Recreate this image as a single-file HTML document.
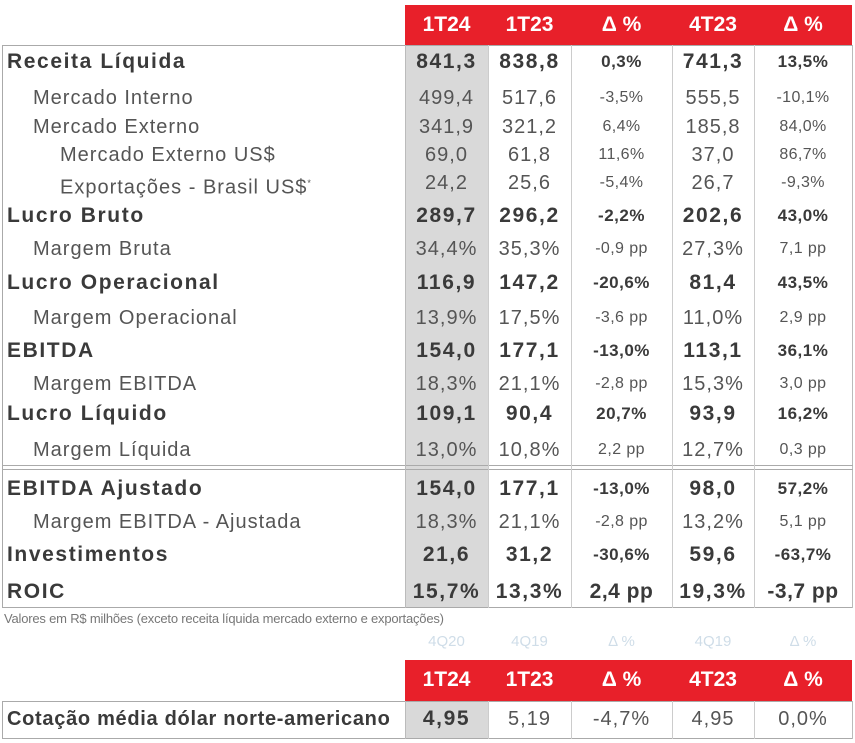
<!DOCTYPE html>
<html><head><meta charset="utf-8"><style>
body{margin:0;width:855px;height:743px;background:#fff;position:relative;overflow:hidden;font-family:"Liberation Sans",sans-serif;color:#555}
.a{position:absolute}
.r{position:absolute;left:0;width:855px;height:30px;line-height:30px;font-size:20px;letter-spacing:1px;white-space:nowrap}
.r span{position:absolute;top:0}
.l{text-align:left}
.c{text-align:center}
.b{font-weight:bold;color:#3a3a3a;font-size:21px;letter-spacing:1.6px}
.hd{color:#fff;font-weight:bold;font-size:21px;text-align:center;line-height:40px}
.s{font-size:16px;letter-spacing:0.4px}
.p{font-size:17px !important;letter-spacing:0.5px}
</style></head><body>
<div class="a" style="left:405px;top:5px;width:447px;height:40px;background:#e8202a"></div>
<div class="a hd" style="left:405px;top:5px;width:83px">1T24</div>
<div class="a hd" style="left:488px;top:5px;width:83px">1T23</div>
<div class="a hd" style="left:571px;top:5px;width:101px">Δ %</div>
<div class="a hd" style="left:672px;top:5px;width:82px">4T23</div>
<div class="a hd" style="left:754px;top:5px;width:98px">Δ %</div>
<div class="a" style="left:405px;top:46px;width:83px;height:562px;background:#d9d9d9"></div>
<div class="a" style="left:2px;top:45px;width:851px;height:1px;background:#aaa"></div>
<div class="a" style="left:2px;top:45px;width:1px;height:563px;background:#aaa"></div>
<div class="a" style="left:2px;top:607px;width:851px;height:1px;background:#aaa"></div>
<div class="a" style="left:852px;top:45px;width:1px;height:563px;background:#bbb"></div>
<div class="a" style="left:2px;top:465px;width:851px;height:1px;background:#aaa"></div>
<div class="a" style="left:2px;top:469px;width:851px;height:1px;background:#aaa"></div>
<div class="a" style="left:405px;top:45px;width:1px;height:563px;background:#bbb"></div>
<div class="a" style="left:488px;top:45px;width:1px;height:563px;background:#ccc"></div>
<div class="a" style="left:571px;top:45px;width:1px;height:563px;background:#ccc"></div>
<div class="a" style="left:672px;top:45px;width:1px;height:563px;background:#ccc"></div>
<div class="a" style="left:754px;top:45px;width:1px;height:563px;background:#ccc"></div>

<div class="r b" style="top:47px"><span style="left:7px">Receita Líquida</span><span class="c" style="left:405px;width:83px">841,3</span><span class="c" style="left:488px;width:83px">838,8</span><span class="c p" style="left:571px;width:101px">0,3%</span><span class="c" style="left:672px;width:82px">741,3</span><span class="c p" style="left:754px;width:98px">13,5%</span></div>
<div class="r" style="top:83px"><span style="left:33px">Mercado Interno</span><span class="c" style="left:405px;width:83px">499,4</span><span class="c" style="left:488px;width:83px">517,6</span><span class="c s" style="left:571px;width:101px">-3,5%</span><span class="c" style="left:672px;width:82px">555,5</span><span class="c s" style="left:754px;width:98px">-10,1%</span></div>
<div class="r" style="top:112px"><span style="left:33px">Mercado Externo</span><span class="c" style="left:405px;width:83px">341,9</span><span class="c" style="left:488px;width:83px">321,2</span><span class="c s" style="left:571px;width:101px">6,4%</span><span class="c" style="left:672px;width:82px">185,8</span><span class="c s" style="left:754px;width:98px">84,0%</span></div>
<div class="r" style="top:140px"><span style="left:60px">Mercado Externo US$</span><span class="c" style="left:405px;width:83px">69,0</span><span class="c" style="left:488px;width:83px">61,8</span><span class="c s" style="left:571px;width:101px">11,6%</span><span class="c" style="left:672px;width:82px">37,0</span><span class="c s" style="left:754px;width:98px">86,7%</span></div>
<div class="r" style="top:168px"><span style="left:60px">Exportações - Brasil US$<sup style="font-size:9px">*</sup></span><span class="c" style="left:405px;width:83px">24,2</span><span class="c" style="left:488px;width:83px">25,6</span><span class="c s" style="left:571px;width:101px">-5,4%</span><span class="c" style="left:672px;width:82px">26,7</span><span class="c s" style="left:754px;width:98px">-9,3%</span></div>
<div class="r b" style="top:201px"><span style="left:7px">Lucro Bruto</span><span class="c" style="left:405px;width:83px">289,7</span><span class="c" style="left:488px;width:83px">296,2</span><span class="c p" style="left:571px;width:101px">-2,2%</span><span class="c" style="left:672px;width:82px">202,6</span><span class="c p" style="left:754px;width:98px">43,0%</span></div>
<div class="r" style="top:234px"><span style="left:33px">Margem Bruta</span><span class="c" style="left:405px;width:83px">34,4%</span><span class="c" style="left:488px;width:83px">35,3%</span><span class="c s" style="left:571px;width:101px">-0,9 pp</span><span class="c" style="left:672px;width:82px">27,3%</span><span class="c s" style="left:754px;width:98px">7,1 pp</span></div>
<div class="r b" style="top:268px"><span style="left:7px">Lucro Operacional</span><span class="c" style="left:405px;width:83px">116,9</span><span class="c" style="left:488px;width:83px">147,2</span><span class="c p" style="left:571px;width:101px">-20,6%</span><span class="c" style="left:672px;width:82px">81,4</span><span class="c p" style="left:754px;width:98px">43,5%</span></div>
<div class="r" style="top:303px"><span style="left:33px">Margem Operacional</span><span class="c" style="left:405px;width:83px">13,9%</span><span class="c" style="left:488px;width:83px">17,5%</span><span class="c s" style="left:571px;width:101px">-3,6 pp</span><span class="c" style="left:672px;width:82px">11,0%</span><span class="c s" style="left:754px;width:98px">2,9 pp</span></div>
<div class="r b" style="top:336px"><span style="left:7px">EBITDA</span><span class="c" style="left:405px;width:83px">154,0</span><span class="c" style="left:488px;width:83px">177,1</span><span class="c p" style="left:571px;width:101px">-13,0%</span><span class="c" style="left:672px;width:82px">113,1</span><span class="c p" style="left:754px;width:98px">36,1%</span></div>
<div class="r" style="top:369px"><span style="left:33px">Margem EBITDA</span><span class="c" style="left:405px;width:83px">18,3%</span><span class="c" style="left:488px;width:83px">21,1%</span><span class="c s" style="left:571px;width:101px">-2,8 pp</span><span class="c" style="left:672px;width:82px">15,3%</span><span class="c s" style="left:754px;width:98px">3,0 pp</span></div>
<div class="r b" style="top:399px"><span style="left:7px">Lucro Líquido</span><span class="c" style="left:405px;width:83px">109,1</span><span class="c" style="left:488px;width:83px">90,4</span><span class="c p" style="left:571px;width:101px">20,7%</span><span class="c" style="left:672px;width:82px">93,9</span><span class="c p" style="left:754px;width:98px">16,2%</span></div>
<div class="r" style="top:435px"><span style="left:33px">Margem Líquida</span><span class="c" style="left:405px;width:83px">13,0%</span><span class="c" style="left:488px;width:83px">10,8%</span><span class="c s" style="left:571px;width:101px">2,2 pp</span><span class="c" style="left:672px;width:82px">12,7%</span><span class="c s" style="left:754px;width:98px">0,3 pp</span></div>
<div class="r b" style="top:474px"><span style="left:7px">EBITDA Ajustado</span><span class="c" style="left:405px;width:83px">154,0</span><span class="c" style="left:488px;width:83px">177,1</span><span class="c p" style="left:571px;width:101px">-13,0%</span><span class="c" style="left:672px;width:82px">98,0</span><span class="c p" style="left:754px;width:98px">57,2%</span></div>
<div class="r" style="top:507px"><span style="left:33px">Margem EBITDA - Ajustada</span><span class="c" style="left:405px;width:83px">18,3%</span><span class="c" style="left:488px;width:83px">21,1%</span><span class="c s" style="left:571px;width:101px">-2,8 pp</span><span class="c" style="left:672px;width:82px">13,2%</span><span class="c s" style="left:754px;width:98px">5,1 pp</span></div>
<div class="r b" style="top:540px"><span style="left:7px">Investimentos</span><span class="c" style="left:405px;width:83px">21,6</span><span class="c" style="left:488px;width:83px">31,2</span><span class="c p" style="left:571px;width:101px">-30,6%</span><span class="c" style="left:672px;width:82px">59,6</span><span class="c p" style="left:754px;width:98px">-63,7%</span></div>
<div class="r b" style="top:577px"><span style="left:7px">ROIC</span><span class="c" style="left:405px;width:83px">15,7%</span><span class="c" style="left:488px;width:83px">13,3%</span><span class="c" style="left:571px;width:101px;letter-spacing:0.5px">2,4 pp</span><span class="c" style="left:672px;width:82px">19,3%</span><span class="c" style="left:754px;width:98px;letter-spacing:0.5px">-3,7 pp</span></div>

<div class="a" style="left:4px;top:611px;font-size:13px;color:#777;letter-spacing:-0.2px">Valores em R$ milhões (exceto receita líquida mercado externo e exportações)</div>

<div class="a" style="left:0;top:633px;width:855px;font-size:15px;color:#cfdde8">
<span class="a c" style="left:405px;width:83px">4Q20</span><span class="a c" style="left:488px;width:83px">4Q19</span><span class="a c" style="left:571px;width:101px">Δ %</span><span class="a c" style="left:672px;width:82px">4Q19</span><span class="a c" style="left:754px;width:98px">Δ %</span></div>

<div class="a" style="left:405px;top:660px;width:447px;height:41px;background:#e8202a"></div>
<div class="a hd" style="left:405px;top:660px;width:83px">1T24</div>
<div class="a hd" style="left:488px;top:660px;width:83px">1T23</div>
<div class="a hd" style="left:571px;top:660px;width:101px">Δ %</div>
<div class="a hd" style="left:672px;top:660px;width:82px">4T23</div>
<div class="a hd" style="left:754px;top:660px;width:98px">Δ %</div>

<div class="a" style="left:405px;top:702px;width:83px;height:36px;background:#d9d9d9"></div>
<div class="a" style="left:2px;top:701px;width:851px;height:1px;background:#aaa"></div>
<div class="a" style="left:2px;top:738px;width:851px;height:1px;background:#aaa"></div>
<div class="a" style="left:2px;top:701px;width:1px;height:38px;background:#aaa"></div>
<div class="a" style="left:405px;top:701px;width:1px;height:38px;background:#bbb"></div>
<div class="a" style="left:488px;top:701px;width:1px;height:38px;background:#ccc"></div>
<div class="a" style="left:571px;top:701px;width:1px;height:38px;background:#ccc"></div>
<div class="a" style="left:672px;top:701px;width:1px;height:38px;background:#ccc"></div>
<div class="a" style="left:754px;top:701px;width:1px;height:38px;background:#ccc"></div>
<div class="a" style="left:852px;top:701px;width:1px;height:38px;background:#bbb"></div>
<div class="r" style="top:704px;line-height:30px"><span style="left:7px;font-weight:bold;color:#3a3a3a;font-size:20px;letter-spacing:0.7px">Cotação média dólar norte-americano</span><span class="c b" style="left:405px;width:83px">4,95</span><span class="c" style="left:488px;width:83px">5,19</span><span class="c" style="left:571px;width:101px">-4,7%</span><span class="c" style="left:672px;width:82px">4,95</span><span class="c" style="left:754px;width:98px">0,0%</span></div>
</body></html>
